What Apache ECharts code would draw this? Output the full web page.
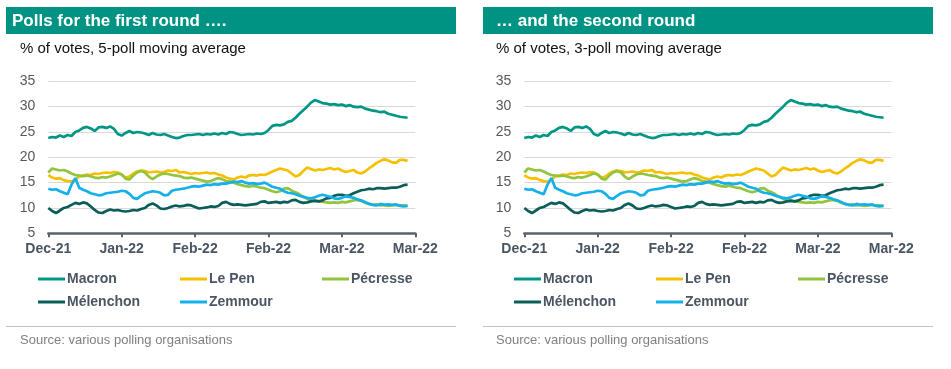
<!DOCTYPE html>
<html><head><meta charset="utf-8">
<script src="https://cdn.jsdelivr.net/npm/echarts@6/dist/echarts.min.js"></script>
<style>html,body{margin:0;padding:0;background:#fff}#c{width:951px;height:369px}</style>
</head><body><div id="c"></div>
<script>
// X tick labels (equally spaced ticks)
const tickLabels = ['Dec-21', 'Jan-22', 'Feb-22', 'Feb-22', 'Mar-22', 'Mar-22'];
const yTicks = [5, 10, 15, 20, 25, 30, 35];

// Daily values (% of votes), day 0 = start of axis
const macron = [
  23.8, 24.0, 23.9, 24.3, 24.0, 24.4, 24.2, 25.0, 25.3, 25.8,
  26.0, 25.7, 25.2, 25.9, 26.0, 25.8, 26.1, 25.6, 24.6, 24.3,
  24.8, 25.2, 24.8, 25.0, 24.9, 24.7, 24.4, 24.8, 24.5, 24.4,
  24.6, 24.3, 24.0, 23.8, 23.9, 24.2, 24.4, 24.4, 24.5, 24.6,
  24.4, 24.6, 24.5, 24.7, 24.5, 24.8, 24.6, 25.0, 24.9, 24.6,
  24.4, 24.5, 24.6, 24.5, 24.7, 24.6, 24.8, 25.4, 26.2, 26.4,
  26.3, 26.5, 27.0, 27.2, 27.8, 28.6, 29.3, 30.0, 30.8, 31.3,
  31.0, 30.7, 30.6, 30.4, 30.5, 30.3, 30.4, 30.1, 30.3, 30.0,
  29.9, 30.0, 29.6, 29.4, 29.2, 29.1, 28.9, 29.0, 28.6, 28.4,
  28.2, 28.0, 27.9, 27.8
];
const lePen = [
  16.5, 16.0, 15.8, 15.9, 15.5, 15.3, 15.2, 15.6, 16.2, 16.4,
  16.6, 16.5, 16.8, 16.7, 16.9, 17.0, 16.9, 17.1, 17.0, 16.6,
  16.0, 16.2, 16.8, 17.2, 17.4, 17.3, 17.0, 17.1, 17.2, 17.0,
  17.1, 17.4, 17.3, 17.5, 17.0, 17.1, 16.9, 16.7, 16.9, 16.8,
  16.9, 17.0, 16.8, 16.9, 16.6, 16.4, 16.0, 15.8, 15.6, 16.0,
  16.2, 16.0, 16.4, 16.5, 16.4, 16.6, 16.5, 16.8, 17.2, 17.5,
  17.8, 17.6, 17.4, 16.8, 16.2, 16.5, 17.3, 18.0, 17.7, 17.4,
  17.6, 17.5, 17.7, 17.9, 17.6, 17.8, 17.4, 17.1, 17.3, 17.5,
  17.0, 16.8, 17.2, 17.8, 18.3, 18.9, 19.3, 19.6, 19.4, 19.0,
  18.9, 19.5, 19.5, 19.3
];
const pecresse = [
  17.0, 17.8, 17.6, 17.4, 17.5, 17.2, 16.8, 16.5, 16.4, 16.3,
  16.4, 16.2, 16.0, 15.9, 16.1, 16.0, 16.2, 16.5, 16.8, 16.6,
  15.8, 15.6, 16.4, 17.0, 17.3, 17.0, 16.2, 15.7, 16.2, 16.6,
  16.8, 16.7, 16.5, 16.4, 16.3, 16.0, 15.9, 16.0, 15.8, 15.6,
  15.4, 15.2, 15.3, 15.6, 15.9, 15.7, 15.3, 15.2, 15.0, 14.7,
  14.5, 14.3, 14.2, 14.4, 14.2, 14.0, 13.9, 13.6, 13.3, 13.1,
  13.3, 13.8, 13.9, 13.4, 13.1, 12.7, 12.2, 11.8, 11.6, 11.5,
  11.3, 11.2, 11.1, 11.0, 11.1, 11.0, 11.2, 11.1, 11.3, 11.5,
  11.6, 11.4, 11.0, 10.8, 10.6, 10.7, 10.5, 10.6, 10.4, 10.5,
  10.6, 10.5, 10.5, 10.4
];
const melenchon = [
  10.0, 9.4, 9.0, 9.5, 10.0, 10.2, 10.6, 11.0, 10.8, 11.1,
  10.9, 10.3, 9.6, 9.1, 9.0, 9.4, 9.7, 9.5, 9.6, 9.4,
  9.3, 9.4, 9.6, 9.5, 9.8, 10.0, 10.6, 10.9, 10.5, 9.9,
  9.8, 10.0, 10.3, 10.5, 10.3, 10.4, 10.6, 10.5, 10.2, 9.9,
  10.0, 10.1, 10.3, 10.2, 10.4, 11.0, 11.2, 10.8, 10.6, 10.7,
  10.6, 10.5, 10.6, 10.7, 10.8, 11.2, 11.3, 11.0, 11.1, 11.2,
  11.0, 11.2, 11.1, 11.5, 11.6, 11.2, 11.0, 11.1, 11.3, 11.4,
  11.3, 11.5, 11.9, 12.0, 12.4, 12.6, 12.6, 12.4, 12.5, 12.9,
  13.2, 13.5, 13.6, 13.8, 13.7, 13.9, 13.9, 13.8, 13.9, 14.0,
  14.0, 14.2, 14.5, 14.6
];
const zemmour = [
  13.8, 13.6, 13.7, 13.3, 13.0, 12.7, 14.6, 15.9, 14.0, 13.6,
  13.3, 12.9, 12.7, 12.5, 12.6, 12.9, 13.0, 13.1, 13.2, 13.4,
  13.3, 12.8, 12.0, 11.8, 12.4, 12.9, 13.1, 13.3, 13.2, 13.0,
  12.5, 12.6, 13.4, 13.6, 13.7, 13.8, 14.0, 14.2, 14.3, 14.2,
  14.4, 14.6, 14.5, 14.7, 14.6, 14.8, 14.8, 15.0, 15.2, 15.1,
  15.3, 15.0, 14.8, 14.9, 14.7, 14.8, 15.0, 14.6, 14.2, 14.0,
  13.8, 13.3, 13.0, 12.9, 12.7, 12.4, 12.2, 12.0, 11.9, 12.1,
  12.4, 12.6, 12.4, 12.2, 11.9, 11.8, 12.0, 12.3, 12.2, 12.0,
  11.7, 11.5, 11.2, 10.8, 10.6, 10.5, 10.8, 10.6, 10.7, 10.6,
  10.7, 10.4, 10.3, 10.4
];

const seriesNames = ['Macron', 'Le Pen', 'Pécresse', 'Mélenchon', 'Zemmour'];
const seriesData = [macron, lePen, pecresse, melenchon, zemmour];
const colors = ['#009686', '#f6c000', '#93c43e', '#0b5e57', '#14b0ec'];
const panelTitles = ['Polls for the first round ….', '… and the second round'];
const panelSubtitles = ['% of votes, 5-poll moving average', '% of votes, 3-poll moving average'];
// legend slot (column, row) for each series
const legendSlots = [[0, 0], [1, 0], [2, 0], [0, 1], [1, 1]];

const FONT = '"Liberation Sans", Arial, sans-serif';
const X_MAX = 95, X_INT = 19;
const panels = [
  { gridLeft: 48.3, barX: 6, titleX: 12, textX: 20, legendX: 38 },
  { gridLeft: 524.3, barX: 483, titleX: 496, textX: 496, legendX: 514 }
];

const grids = [], xAxes = [], yAxes = [], series = [], legends = [], graphics = [];
panels.forEach((p, i) => {
  grids.push({ left: p.gridLeft, top: 81.3, width: 367, height: 152 });
  xAxes.push({
    gridIndex: i, type: 'value', min: 0, max: X_MAX, interval: X_INT,
    axisLine: { show: true, lineStyle: { color: '#59636e', width: 2.5 } },
    axisTick: { show: true, length: 4, lineStyle: { color: '#59636e', width: 2 } },
    axisLabel: {
      formatter: v => tickLabels[Math.round(v / X_INT)] || '',
      color: '#4a5562', fontWeight: 'bold', fontSize: 14, fontFamily: FONT, margin: 9
    },
    splitLine: { show: false }
  });
  yAxes.push({
    gridIndex: i, type: 'value', min: yTicks[0], max: yTicks[yTicks.length - 1], interval: 5,
    axisLine: { show: false }, axisTick: { show: false },
    axisLabel: { color: '#595959', fontSize: 14, fontFamily: FONT, margin: 13 },
    splitLine: { lineStyle: { color: '#d9d9d9', width: 1 } }
  });
  seriesNames.forEach((name, k) => {
    series.push({
      name, type: 'line', xAxisIndex: i, yAxisIndex: i,
      data: seriesData[k].map((v, d) => [d, v]),
      showSymbol: false, symbol: 'none',
      lineStyle: { color: colors[k], width: 2.7 },
      itemStyle: { color: colors[k] },
      animation: false
    });
    const [col, row] = legendSlots[k];
    legends.push({
      data: [name], left: p.legendX + col * 142, top: row === 0 ? 272 : 295,
      icon: 'rect', itemWidth: 27, itemHeight: 3, padding: 0,
      selectedMode: false,
      textStyle: { color: '#4b5563', fontSize: 14, fontWeight: 'bold', fontFamily: FONT, padding: [0, 0, 0, -3] }
    });
  });
  graphics.push(
    { type: 'rect', silent: true, shape: { x: p.barX, y: 7, width: 450, height: 27 }, style: { fill: '#009383' } },
    { type: 'text', silent: true, style: { x: p.titleX, y: 21, text: panelTitles[i], fill: '#ffffff', fontSize: 17, fontWeight: 'bold', fontFamily: FONT, verticalAlign: 'middle' } },
    { type: 'text', silent: true, style: { x: p.textX, y: 48.5, text: panelSubtitles[i], fill: '#111111', fontSize: 15, fontFamily: FONT, verticalAlign: 'middle' } },
    { type: 'line', silent: true, shape: { x1: p.barX, y1: 326.5, x2: p.barX + 450, y2: 326.5 }, style: { stroke: '#c4c4c4', lineWidth: 1 } },
    { type: 'text', silent: true, style: { x: p.textX, y: 340.5, text: 'Source: various polling organisations', fill: '#808080', fontSize: 13, fontFamily: FONT, verticalAlign: 'middle' } }
  );
});

const chart = echarts.init(document.getElementById('c'), null, { renderer: 'canvas' });
chart.setOption({
  animation: false,
  backgroundColor: '#ffffff',
  grid: grids, xAxis: xAxes, yAxis: yAxes, series, legend: legends, graphic: graphics
});
</script>
</body></html>
